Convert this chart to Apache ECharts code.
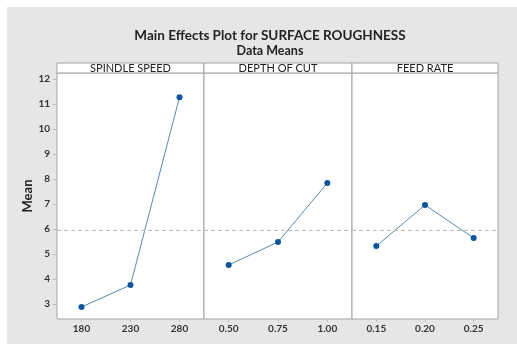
<!DOCTYPE html>
<html><head><meta charset="utf-8">
<script src="https://cdn.jsdelivr.net/npm/echarts@6/dist/echarts.min.js"></script>
<style>html,body{margin:0;padding:0;background:#fff}#c{width:517px;height:344px}</style>
</head><body><div id="c"></div>
<script>
const factors = ['SPINDLE SPEED', 'DEPTH OF CUT', 'FEED RATE'];
const spindleLevels = ['180', '230', '280'];
const depthLevels = ['0.50', '0.75', '1.00'];
const feedLevels = ['0.15', '0.20', '0.25'];
const spindleMeans = [2.88, 3.76, 11.27];
const depthMeans = [4.56, 5.48, 7.84];
const feedMeans = [5.32, 6.96, 5.64];
const yTicks = [3, 4, 5, 6, 7, 8, 9, 10, 11, 12];

const levels = [spindleLevels, depthLevels, feedLevels];
const means = [spindleMeans, depthMeans, feedMeans];
const all = spindleMeans.concat(depthMeans, feedMeans);
const grand = all.reduce((a, b) => a + b, 0) / all.length;

const FONT = 'Lato';
const gridLefts = [57, 204, 352];
const gridWidths = [147, 148, 146];
const TOP = 73, BOTTOM = 25;

const grids = [], xAxes = [], yAxes = [], series = [], graphics = [];
graphics.push({type: 'rect', z: -10, shape: {x: 7, y: 7, width: 520, height: 340}, style: {fill: '#e6e6e6'}});
for (let i = 0; i < 3; i++) {
  grids.push({left: gridLefts[i], width: gridWidths[i], top: TOP, bottom: BOTTOM, show: true,
    backgroundColor: '#fff', borderColor: '#a3a3a3', borderWidth: 1});
  xAxes.push({type: 'category', gridIndex: i, data: levels[i], boundaryGap: true,
    axisLine: {show: false}, axisTick: {show: true, alignWithLabel: true, length: 3, lineStyle: {color: '#bbb'}},
    axisLabel: {color: '#333', fontSize: 10, fontFamily: FONT, fontWeight: 'bold', margin: 5}});
  yAxes.push({type: 'value', gridIndex: i, min: 2.4, max: 12.24, splitLine: {show: false},
    axisLine: {show: false},
    axisTick: {show: i === 0, length: 4, lineStyle: {color: '#bbb'}, customValues: yTicks},
    axisLabel: {show: i === 0, color: '#333', fontSize: 10, fontFamily: FONT, fontWeight: 'bold', margin: 7, customValues: yTicks},
    name: i === 0 ? 'Mean' : '', nameLocation: 'middle', nameGap: 22,
    nameTextStyle: {color: '#222', fontSize: 13, fontFamily: FONT, fontWeight: 'bold'}});
  series.push({type: 'line', xAxisIndex: i, yAxisIndex: i, data: means[i],
    symbol: 'circle', symbolSize: 6, lineStyle: {color: '#5a8aab', width: 1},
    itemStyle: {color: '#0b55a0'},
    markLine: {silent: true, symbol: 'none', label: {show: false},
      lineStyle: {color: '#b8b8b8', type: [4, 3], width: 1}, data: [{yAxis: grand}]}});
  graphics.push({type: 'rect', z: 10, shape: {x: gridLefts[i], y: 63, width: gridWidths[i], height: 10},
    style: {fill: '#fff', stroke: '#a3a3a3', lineWidth: 1}});
  graphics.push({type: 'text', z: 11, x: gridLefts[i] + gridWidths[i] / 2, y: 68,
    style: {text: factors[i], fill: '#222', font: '11px ' + FONT, align: 'center', verticalAlign: 'middle'}});
}

const chart = echarts.init(document.getElementById('c'), null, {renderer: 'canvas'});
chart.setOption({
  backgroundColor: '#fff',
  animation: false,
  title: [
    {text: 'Main Effects Plot for SURFACE ROUGHNESS', left: 265, textAlign: 'center', top: 24,
      textStyle: {fontSize: 13.5, fontFamily: FONT, fontWeight: 'bold', color: '#222'}},
    {text: 'Data Means', left: 265, textAlign: 'center', top: 39,
      textStyle: {fontSize: 12.5, fontFamily: FONT, fontWeight: 'bold', color: '#222'}}
  ],
  grid: grids, xAxis: xAxes, yAxis: yAxes, series: series, graphic: graphics
});
</script></body></html>
